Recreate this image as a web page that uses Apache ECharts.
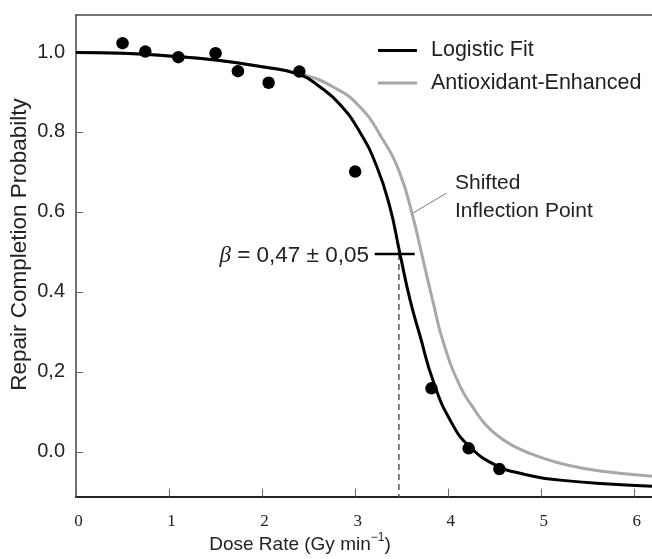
<!DOCTYPE html>
<html>
<head>
<meta charset="utf-8">
<script src="https://cdn.jsdelivr.net/npm/echarts@6/dist/echarts.min.js"></script>
<style>html,body{margin:0;padding:0;background:#fff}#c{width:652px;height:559px}</style>
</head>
<body>
<div id="c"></div>
<script>
// ---- data ----
const fitDose = [0, 0.5, 1.0, 1.5, 2.0, 2.4, 2.62, 2.84, 3.05, 3.23, 3.37, 3.48, 3.59, 3.70, 3.84, 4.02, 4.23, 4.55, 4.75, 4.98, 5.09, 5.63, 6.19];
const fitProb = [0.999, 0.997, 0.990, 0.980, 0.963, 0.944, 0.913, 0.868, 0.800, 0.715, 0.615, 0.497, 0.380, 0.288, 0.176, 0.080, 0.013, -0.038, -0.052, -0.064, -0.068, -0.079, -0.086];
const enhDose = [0, 0.5, 1.0, 1.5, 2.0, 2.4, 2.76, 3.05, 3.30, 3.48, 3.62, 3.73, 3.84, 3.95, 4.13, 4.27, 4.41, 4.57, 4.74, 5.00, 5.30, 5.63, 6.19];
const enhProb = [0.999, 0.997, 0.990, 0.980, 0.963, 0.946, 0.913, 0.863, 0.780, 0.697, 0.588, 0.480, 0.372, 0.272, 0.163, 0.110, 0.066, 0.034, 0.010, -0.014, -0.034, -0.048, -0.061];
const obsDose = [0.50, 0.745, 1.10, 1.50, 1.74, 2.07, 2.40, 3.00, 3.82, 4.22, 4.55];
const obsProb = [1.022, 1.001, 0.987, 0.997, 0.952, 0.923, 0.951, 0.701, 0.159, 0.009, -0.043];
const betaBarDose = [3.21, 3.64];
const betaBarProb = [0.495, 0.495];
const inflectionDose = [3.47, 3.47];
const inflectionProb = [0.495, -0.112];
const leaderDose = [3.62, 3.98];
const leaderProb = [0.597, 0.647];
const xTicks = [0, 1, 2, 3, 4, 5, 6];
const xTickLabels = ['0', '1', '2', '3', '4', '5', '6'];
const yTicks = [0, 0.2, 0.4, 0.6, 0.8, 1.0];
const yTickLabels = ['0.0', '0,2', '0.4', '0.6', '0.8', '1.0'];
const seriesNames = ['Logistic Fit', 'Antioxidant-Enhanced'];
const xTitle = 'Dose Rate (Gy min';
const xTitleSup = '\u22121';
const yTitle = 'Repair Completion Probabilty';
const betaText = ' = 0,47 \u00b1 0,05';
const shiftedText = 'Shifted\nInflection Point';

const zip = (a, b) => a.map((v, i) => [v, b[i]]);
const SANS = '"Liberation Sans", Arial, Helvetica, sans-serif';
const SERIF = '"Liberation Serif", "Times New Roman", serif';
const X_MIN = 0, X_MAX = 6.19, Y_MIN = -0.112, Y_MAX = 1.0925;

const chart = echarts.init(document.getElementById('c'), null, {renderer: 'canvas'});
chart.setOption({
  animation: false,
  backgroundColor: '#fff',
  grid: {left: 76, right: 0, top: 15, bottom: 62.3, containLabel: false},
  legend: {
    data: seriesNames,
    orient: 'vertical',
    left: 378, top: 39.5,
    itemWidth: 39, itemHeight: 3, itemGap: 10.5,
    icon: 'rect',
    padding: 0,
    textStyle: {fontFamily: SANS, fontSize: 21.5, color: '#222', padding: [0, 0, 0, 9]}
  },
  xAxis: [{
    type: 'value', min: X_MIN, max: X_MAX,
    axisLine: {show: true, onZero: false, lineStyle: {color: '#222', width: 2}},
    axisTick: {show: true, inside: true, length: 8, customValues: xTicks, lineStyle: {color: '#666', width: 1}},
    axisLabel: {
      customValues: xTicks, margin: 16,
      formatter: v => xTickLabels[xTicks.indexOf(Math.round(v))] || '',
      fontFamily: SERIF, fontSize: 17, color: '#222', padding: [0, 0, 0, 5]
    },
    splitLine: {show: false}
  }, {
    type: 'value', min: X_MIN, max: X_MAX, position: 'top',
    axisLine: {show: true, onZero: false, lineStyle: {color: '#444', width: 1.5}},
    axisTick: {show: false}, axisLabel: {show: false}, splitLine: {show: false}
  }],
  yAxis: {
    type: 'value', min: Y_MIN, max: Y_MAX,
    axisLine: {show: true, onZero: false, lineStyle: {color: '#444', width: 1.5}},
    axisTick: {show: true, inside: true, length: 7, customValues: yTicks, lineStyle: {color: '#666', width: 1}},
    axisLabel: {
      customValues: yTicks, margin: 11,
      formatter: v => { const i = yTicks.findIndex(t => Math.abs(t - v) < 1e-6); return i >= 0 ? yTickLabels[i] : ''; },
      fontFamily: SANS, fontSize: 20, color: '#222'
    },
    splitLine: {show: false}
  },
  series: [
    {
      name: seriesNames[1], type: 'line', data: zip(enhDose, enhProb), smooth: 0.5,
      showSymbol: false, symbol: 'none', lineStyle: {color: '#a8a8a8', width: 3}, itemStyle: {color: '#a8a8a8'}, z: 2
    },
    {
      name: seriesNames[0], type: 'line', data: zip(fitDose, fitProb), smooth: 0.5,
      showSymbol: false, symbol: 'none', lineStyle: {color: '#000', width: 3}, itemStyle: {color: '#000'}, z: 3
    },
    {
      name: 'Observed', type: 'scatter', data: zip(obsDose, obsProb), symbolSize: 12.5,
      itemStyle: {color: '#000', opacity: 1}, z: 4
    },
    {
      name: 'beta', type: 'line', data: zip(betaBarDose, betaBarProb), showSymbol: false, symbol: 'none',
      lineStyle: {color: '#000', width: 2.5}, z: 5
    },
    {
      name: 'inflection', type: 'line', data: zip(inflectionDose, inflectionProb), showSymbol: false, symbol: 'none',
      lineStyle: {color: '#555', width: 1.5, type: [6, 4]}, z: 1
    },
    {
      name: 'leader', type: 'line', data: zip(leaderDose, leaderProb), showSymbol: false, symbol: 'none',
      lineStyle: {color: '#777', width: 1}, z: 1
    }
  ],
  graphic: [
    {
      type: 'text', x: 20, y: 244.5, rotation: Math.PI / 2,
      style: {text: yTitle, font: '22.5px ' + SANS, fill: '#222', align: 'center', verticalAlign: 'middle'}
    },
    {
      type: 'text', x: 300, y: 543,
      style: {
        text: '{a|' + xTitle + '}{s|' + xTitleSup + '}{a|)}',
        align: 'center', verticalAlign: 'middle',
        rich: {
          a: {font: '19px ' + SANS, fill: '#222', lineHeight: 22, verticalAlign: 'bottom'},
          s: {font: '12px ' + SANS, fill: '#222', lineHeight: 22, verticalAlign: 'top'}
        }
      }
    },
    {
      type: 'text', x: 369, y: 256,
      style: {
        text: '{b|\u03b2}{n|' + betaText + '}',
        align: 'right', verticalAlign: 'middle',
        rich: {
          b: {font: 'italic 23px ' + SERIF, fill: '#222'},
          n: {font: '22.5px ' + SANS, fill: '#222'}
        }
      }
    },
    {
      type: 'text', x: 455, y: 169,
      style: {text: shiftedText, font: '21px ' + SANS, fill: '#222', lineHeight: 28, align: 'left', verticalAlign: 'top'}
    }
  ]
});
</script>
</body>
</html>
